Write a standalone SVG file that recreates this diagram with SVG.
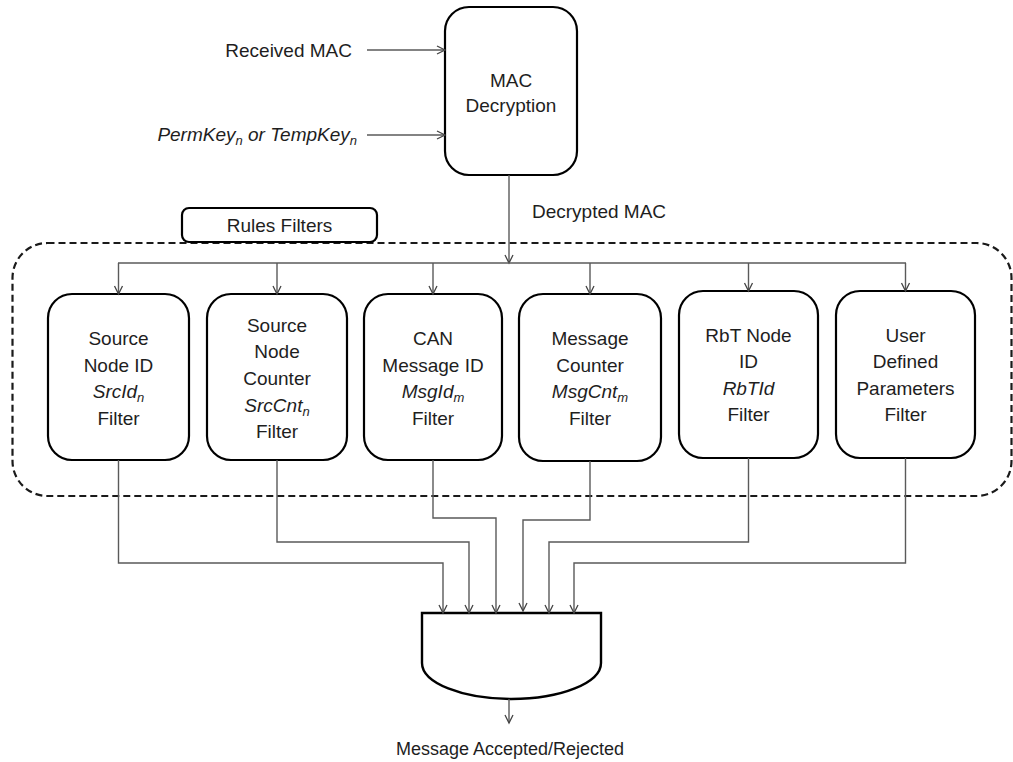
<svg xmlns="http://www.w3.org/2000/svg" width="1013" height="762" viewBox="0 0 1013 762">
<defs>
<marker id="arr" markerUnits="userSpaceOnUse" markerWidth="12" markerHeight="12" refX="9" refY="5" orient="auto">
<path d="M1,1 L9,5 L1,9" fill="none" stroke="#444" stroke-width="1.3"/>
</marker>
<style>
text{font-family:"Liberation Sans",Arial,sans-serif;font-size:19px;fill:#1e1e1e}
.c{text-anchor:middle}
.i{font-style:italic}
.box{fill:#fff;stroke:#000;stroke-width:2.2}
.ln{fill:none;stroke:#5a5a5a;stroke-width:1.4}
.sub{font-size:13px}
</style>
</defs>
<rect width="1013" height="762" fill="#fff"/>

<g id="rules-container">
<rect x="12.5" y="243" width="999" height="253" rx="35" ry="35" fill="none" stroke="#1a1a1a" stroke-width="2.2" stroke-dasharray="7,4"/>
</g>

<g id="rules-label">
<rect x="182" y="208" width="195" height="34" rx="7" class="box"/>
<text x="279.5" y="232" class="c">Rules Filters</text>
</g>

<g id="mac-decryption">
<rect x="445" y="7" width="132" height="168" rx="24" class="box"/>
<text x="511" y="87" class="c">MAC</text>
<text x="511" y="112" class="c">Decryption</text>
</g>

<g id="received-mac"><text x="352" y="57" text-anchor="end">Received MAC</text></g>
<g id="key-input"><text x="357" y="141" text-anchor="end" class="i">PermKey<tspan class="sub" dy="4">n</tspan><tspan dy="-4"> or TempKey</tspan><tspan class="sub" dy="4">n</tspan></text></g>
<g id="decrypted-mac"><text x="532" y="218">Decrypted MAC</text></g>

<g id="f1">
<rect x="48" y="294" width="141" height="166" rx="24" class="box"/>
<text x="118.5" y="345" class="c">Source</text>
<text x="118.5" y="372" class="c">Node ID</text>
<text x="118.5" y="398" class="c i">SrcId<tspan class="sub" dy="4">n</tspan></text>
<text x="118.5" y="425" class="c">Filter</text>
</g>
<g id="f2">
<rect x="207" y="294" width="140" height="166" rx="24" class="box"/>
<text x="277" y="332" class="c">Source</text>
<text x="277" y="358" class="c">Node</text>
<text x="277" y="385" class="c">Counter</text>
<text x="277" y="412" class="c i">SrcCnt<tspan class="sub" dy="4">n</tspan></text>
<text x="277" y="438" class="c">Filter</text>
</g>
<g id="f3">
<rect x="364" y="294" width="138" height="166" rx="24" class="box"/>
<text x="433" y="345" class="c">CAN</text>
<text x="433" y="372" class="c">Message ID</text>
<text x="433" y="398" class="c i">MsgId<tspan class="sub" dy="4">m</tspan></text>
<text x="433" y="425" class="c">Filter</text>
</g>
<g id="f4">
<rect x="519" y="294" width="142" height="167" rx="24" class="box"/>
<text x="590" y="345" class="c">Message</text>
<text x="590" y="372" class="c">Counter</text>
<text x="590" y="398" class="c i">MsgCnt<tspan class="sub" dy="4">m</tspan></text>
<text x="590" y="425" class="c">Filter</text>
</g>
<g id="f5">
<rect x="679" y="291" width="139" height="167" rx="24" class="box"/>
<text x="748.5" y="342" class="c">RbT Node</text>
<text x="748.5" y="368" class="c">ID</text>
<text x="748.5" y="395" class="c i">RbTId</text>
<text x="748.5" y="421" class="c">Filter</text>
</g>
<g id="f6">
<rect x="836" y="291" width="139" height="167" rx="24" class="box"/>
<text x="905.5" y="342" class="c">User</text>
<text x="905.5" y="368" class="c">Defined</text>
<text x="905.5" y="395" class="c">Parameters</text>
<text x="905.5" y="421" class="c">Filter</text>
</g>

<g id="and-gate">
<path d="M422,613 H601 V663 A89.5,36 0 0 1 422,663 Z" fill="#fff" stroke="#000" stroke-width="2.4"/>
</g>
<g id="output-label"><text x="510" y="755" class="c" style="font-size:18px">Message Accepted/Rejected</text></g>

<g id="connectors">
<line x1="367" y1="50" x2="445" y2="50" class="ln" stroke="#333" marker-end="url(#arr)"/>
<line x1="367" y1="135" x2="445" y2="135" class="ln" stroke="#333" marker-end="url(#arr)"/>
<line x1="509" y1="175" x2="509" y2="263" class="ln" marker-end="url(#arr)"/>
<line x1="118" y1="263" x2="906" y2="263" class="ln"/>
<line x1="118.5" y1="263" x2="118.5" y2="294" class="ln" marker-end="url(#arr)"/>
<line x1="277" y1="263" x2="277" y2="294" class="ln" marker-end="url(#arr)"/>
<line x1="433" y1="263" x2="433" y2="294" class="ln" marker-end="url(#arr)"/>
<line x1="590" y1="263" x2="590" y2="294" class="ln" marker-end="url(#arr)"/>
<line x1="748.5" y1="263" x2="748.5" y2="291" class="ln" marker-end="url(#arr)"/>
<line x1="905.5" y1="263" x2="905.5" y2="291" class="ln" marker-end="url(#arr)"/>
<polyline points="118.5,460 118.5,563 443,563 443,613" class="ln" marker-end="url(#arr)"/>
<polyline points="277,460 277,542 469,542 469,613" class="ln" marker-end="url(#arr)"/>
<polyline points="433,460 433,518 496,518 496,613" class="ln" marker-end="url(#arr)"/>
<polyline points="590,461 590,520 523,520 523,611" class="ln" marker-end="url(#arr)"/>
<polyline points="748.5,458 748.5,542 549,542 549,613" class="ln" marker-end="url(#arr)"/>
<polyline points="905.5,458 905.5,563 574,563 574,613" class="ln" stroke="#222" marker-end="url(#arr)"/>
<line x1="509" y1="699" x2="509" y2="723" class="ln" marker-end="url(#arr)"/>
</g>
</svg>
